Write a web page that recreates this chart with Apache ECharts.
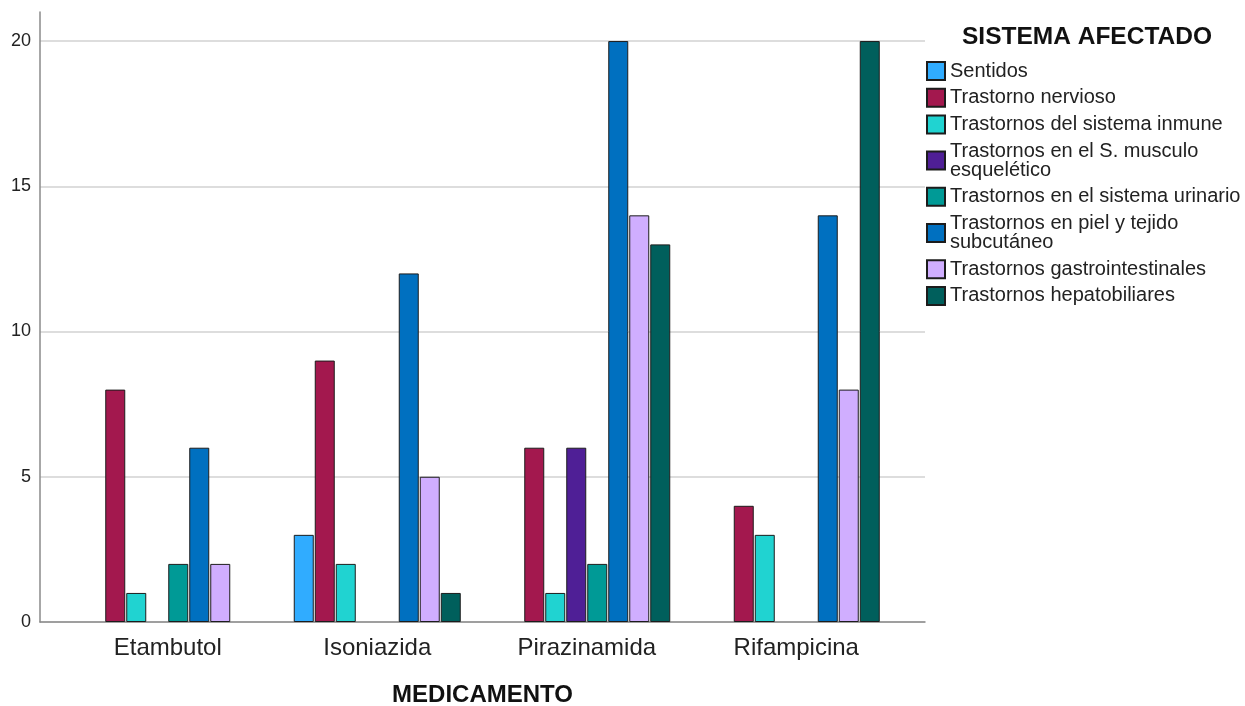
<!DOCTYPE html>
<html>
<head>
<meta charset="utf-8">
<script src="https://cdn.jsdelivr.net/npm/echarts@6/dist/echarts.min.js"></script>
<style>html,body{margin:0;padding:0;background:#fff}#c{width:1245px;height:706px}</style>
</head>
<body>
<div id="c"></div>
<script>
const categories = ['Etambutol', 'Isoniazida', 'Pirazinamida', 'Rifampicina'];
const seriesNames = [
  'Sentidos',
  'Trastorno nervioso',
  'Trastornos del sistema inmune',
  'Trastornos en el S. musculo\nesquelético',
  'Trastornos en el sistema urinario',
  'Trastornos en piel y tejido\nsubcutáneo',
  'Trastornos gastrointestinales',
  'Trastornos hepatobiliares'
];
const sentidos      = [0, 3, 0, 0];
const nervioso      = [8, 9, 6, 4];
const inmune        = [1, 2, 1, 3];
const musculo       = [0, 0, 6, 0];
const urinario      = [2, 0, 2, 0];
const piel          = [6, 12, 20, 14];
const gastro        = [2, 5, 14, 8];
const hepato        = [0, 1, 13, 20];
const yMin = 0, yMax = 21, yInterval = 5;
const colors = ['#30acff', '#a3184e', '#20d3d1', '#4f1f96', '#009a96', '#0070c0', '#d0aeff', '#005f5c'];

const values = [sentidos, nervioso, inmune, musculo, urinario, piel, gastro, hepato];
const FONT = "'Liberation Sans', Arial, sans-serif";

const series = values.map((arr, i) => ({
  name: seriesNames[i],
  type: 'bar',
  xAxisIndex: 0,
  yAxisIndex: 0,
  barWidth: 20,
  barGap: '5%',
  data: arr.map(v => v === 0 ? '-' : v),
  itemStyle: { color: colors[i], borderColor: '#1c1c1c', borderWidth: 1 },
  emphasis: { disabled: true },
  animation: false
}));

const chart = echarts.init(document.getElementById('c'), null, { renderer: 'canvas' });
chart.setOption({
  animation: false,
  backgroundColor: '#fff',
  textStyle: { fontFamily: FONT },
  title: {
    text: 'SISTEMA AFECTADO',
    left: 957,
    top: 20,
    textStyle: { fontFamily: FONT, fontSize: 24.5, fontWeight: 'bold', color: '#111' }
  },
  legend: {
    orient: 'vertical',
    left: 926,
    top: 61,
    padding: 0,
    itemGap: 6.7,
    itemWidth: 18,
    itemHeight: 18,
    icon: 'rect',
    selectedMode: false,
    textStyle: { fontFamily: FONT, fontSize: 20, lineHeight: 19, color: '#222' },
    data: seriesNames
  },
  grid: [
    { left: 63, width: 838, top: 12, bottom: 84, containLabel: false, outerBoundsMode: 'none' },
    { left: 40, right: 320, top: 12, bottom: 84, containLabel: false, outerBoundsMode: 'none' }
  ],
  xAxis: [
    {
      type: 'category', gridIndex: 0, data: categories,
      axisLine: { show: false }, axisTick: { show: false },
      axisLabel: { fontFamily: FONT, fontSize: 24, color: '#222', margin: 14 },
      splitLine: { show: false }
    },
    {
      type: 'value', gridIndex: 1, min: 0, max: 1,
      axisLine: { show: true, lineStyle: { color: '#8a8a8a', width: 1.5 } },
      axisTick: { show: false }, axisLabel: { show: false }, splitLine: { show: false },
      name: 'MEDICAMENTO', nameLocation: 'middle', nameGap: 61,
      nameTextStyle: { fontFamily: FONT, fontSize: 24, fontWeight: 'bold', color: '#111' }
    }
  ],
  yAxis: [
    {
      type: 'value', gridIndex: 0, min: yMin, max: yMax, interval: yInterval,
      axisLine: { show: false }, axisTick: { show: false }, axisLabel: { show: false },
      splitLine: { show: false }
    },
    {
      type: 'value', gridIndex: 1, min: yMin, max: yMax, interval: yInterval, z: 0,
      axisLine: { show: true, lineStyle: { color: '#8a8a8a', width: 1.5 } },
      axisTick: { show: false },
      axisLabel: { fontFamily: FONT, fontSize: 18, color: '#222', margin: 9, showMaxLabel: false },
      splitLine: { show: true, showMaxLine: false, lineStyle: { color: '#d2d2d2', width: 1.5 } }
    }
  ],
  series: series
});
</script>
</body>
</html>
